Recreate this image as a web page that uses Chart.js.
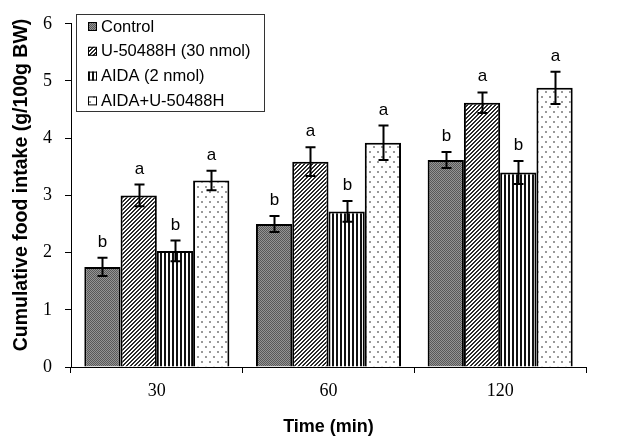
<!DOCTYPE html>
<html>
<head>
<meta charset="utf-8">
<script src="https://cdn.jsdelivr.net/npm/chart.js@4/dist/chart.umd.min.js"></script>
<style>
html,body{margin:0;padding:0;background:#fff;}
#wrap{width:624px;height:438px;position:relative;}
</style>
</head>
<body>
<div id="wrap"><canvas id="c" width="624" height="438"></canvas></div>
<script>
const categories = ["30", "60", "120"];
const seriesNames = ["Control", "U-50488H (30 nmol)", "AIDA (2 nmol)", "AIDA+U-50488H"];
const controlValues = [1.75, 2.50, 3.62];
const u50488Values = [3.00, 3.59, 4.62];
const aidaValues = [2.03, 2.72, 3.40];
const comboValues = [3.26, 3.92, 4.88];
const controlErr = [0.16, 0.14, 0.14];
const u50488Err = [0.19, 0.25, 0.18];
const aidaErr = [0.18, 0.18, 0.20];
const comboErr = [0.17, 0.30, 0.28];
const controlLetters = ["b", "b", "b"];
const u50488Letters = ["a", "a", "a"];
const aidaLetters = ["b", "b", "b"];
const comboLetters = ["a", "a", "a"];
const yTicks = [0, 1, 2, 3, 4, 5, 6];
const yTitle = "Cumulative food intake (g/100g BW)";
const xTitle = "Time (min)";

function makePattern(w, h, draw) {
  const c = document.createElement('canvas');
  c.width = w; c.height = h;
  const g = c.getContext('2d');
  draw(g, w, h);
  return c.getContext('2d').createPattern(c, 'repeat');
}
const pControl = makePattern(2, 2, (g) => {
  g.fillStyle = '#949494'; g.fillRect(0, 0, 2, 2);
  g.fillStyle = '#585858'; g.fillRect(0, 0, 1, 1); g.fillRect(1, 1, 1, 1);
});
const pU = makePattern(4, 4, (g) => {
  g.fillStyle = '#ffffff'; g.fillRect(0, 0, 4, 4);
  g.fillStyle = '#2a2a2a';
  for (let y = 0; y < 4; y++) {
    for (let k = 0; k < 2; k++) {
      const x = ((3 - y) + k + 4) % 4;
      g.fillRect(x, y, 1, 1);
    }
  }
});
const pAida = makePattern(4, 4, (g) => {
  g.fillStyle = '#ffffff'; g.fillRect(0, 0, 4, 4);
  g.fillStyle = '#111111'; g.fillRect(0, 0, 2, 4);
});
const pCombo = makePattern(8, 10, (g) => {
  g.fillStyle = '#ffffff'; g.fillRect(0, 0, 8, 10);
  g.fillStyle = '#999999';
  g.fillRect(1, 1, 2, 2);
  g.fillRect(5, 6, 2, 2);
});

const errors = [controlErr, u50488Err, aidaErr, comboErr];
const letters = [controlLetters, u50488Letters, aidaLetters, comboLetters];
const fills = [pControl, pU, pAida, pCombo];

const errPlugin = {
  id: 'errbars',
  afterDatasetsDraw(chart) {
    const ctx = chart.ctx;
    const ys = chart.scales.y;
    ctx.save();
    chart.data.datasets.forEach((ds, di) => {
      const meta = chart.getDatasetMeta(di);
      meta.data.forEach((bar, i) => {
        const v = ds.data[i], e = errors[di][i];
        const x = Math.round(bar.x) + 0.5;
        const yt = ys.getPixelForValue(v + e);
        const yb = ys.getPixelForValue(v - e);
        ctx.strokeStyle = '#000';
        ctx.lineWidth = 2;
        ctx.beginPath();
        ctx.moveTo(x, yt); ctx.lineTo(x, yb);
        ctx.moveTo(x - 5, yt); ctx.lineTo(x + 5, yt);
        ctx.moveTo(x - 5, yb); ctx.lineTo(x + 5, yb);
        ctx.stroke();
        ctx.fillStyle = '#000';
        ctx.font = '17px Arial, "Liberation Sans", sans-serif';
        ctx.textAlign = 'center';
        ctx.textBaseline = 'alphabetic';
        ctx.fillText(letters[di][i], x, yt - 11);
      });
    });
    ctx.restore();
  }
};

const titlePlugin = {
  id: 'ytitle',
  afterDraw(chart) {
    const ctx = chart.ctx;
    ctx.save();
    ctx.translate(22, 185);
    ctx.rotate(-Math.PI / 2);
    ctx.font = 'bold 19.5px Arial, "Liberation Sans", sans-serif';
    ctx.fillStyle = '#000';
    ctx.textAlign = 'center';
    ctx.textBaseline = 'middle';
    ctx.fillText(yTitle, 0, 0);
    ctx.restore();
  }
};

const legendPlugin = {
  id: 'boxlegend',
  afterDraw(chart) {
    const ctx = chart.ctx;
    ctx.save();
    const bx = 76.5, by = 14.5, bw = 188, bh = 97;
    ctx.fillStyle = '#fff';
    ctx.fillRect(bx, by, bw, bh);
    ctx.strokeStyle = '#333';
    ctx.lineWidth = 1;
    ctx.strokeRect(bx, by, bw, bh);
    ctx.font = '16.5px Arial, "Liberation Sans", sans-serif';
    ctx.textBaseline = 'middle';
    ctx.textAlign = 'left';
    chart.data.datasets.forEach((ds, di) => {
      const cy = 26 + di * 24.8;
      ctx.fillStyle = fills[di];
      ctx.fillRect(88, cy - 4, 9, 9);
      ctx.strokeStyle = '#000';
      ctx.lineWidth = 1;
      ctx.strokeRect(88.5, cy - 3.5, 8, 8);
      ctx.fillStyle = '#000';
      ctx.fillText(ds.label, 101, cy + 1);
    });
    ctx.restore();
  }
};

new Chart(document.getElementById('c'), {
  type: 'bar',
  data: {
    labels: categories,
    datasets: [
      { label: seriesNames[0], data: controlValues, backgroundColor: pControl },
      { label: seriesNames[1], data: u50488Values, backgroundColor: pU },
      { label: seriesNames[2], data: aidaValues, backgroundColor: pAida },
      { label: seriesNames[3], data: comboValues, backgroundColor: pCombo }
    ].map(d => Object.assign(d, { borderColor: '#000', borderWidth: 2, categoryPercentage: 0.845, barPercentage: 1.0 }))
  },
  options: {
    responsive: false,
    animation: false,
    devicePixelRatio: 1,
    layout: { padding: { left: 0, right: 38, top: 17, bottom: 0 } },
    plugins: { legend: { display: false }, tooltip: { enabled: false } },
    scales: {
      x: {
        grid: { display: true, drawOnChartArea: false, offset: true, color: '#000', tickLength: 6, lineWidth: 1 },
        border: { color: '#000', width: 1 },
        ticks: { color: '#000', font: { family: '"Liberation Serif", "Times New Roman", serif', size: 18 }, padding: 7 },
        title: { display: true, text: xTitle, color: '#000', font: { family: 'Arial, "Liberation Sans", sans-serif', size: 18, weight: 'bold' }, padding: { top: 0, bottom: 0 } },
        afterFit(s) { s.height = 71; }
      },
      y: {
        min: 0, max: 6,
        afterBuildTicks(s) { s.ticks = yTicks.map(v => ({ value: v })); },
        grid: { display: true, drawOnChartArea: false, color: '#000', tickLength: 6, lineWidth: 1 },
        border: { color: '#000', width: 1 },
        ticks: { color: '#000', font: { family: '"Liberation Serif", "Times New Roman", serif', size: 18 }, padding: 13 },
        title: { display: false },
        afterFit(s) { s.width = 71; }
      }
    }
  },
  plugins: [errPlugin, titlePlugin, legendPlugin]
});
</script>
</body>
</html>
